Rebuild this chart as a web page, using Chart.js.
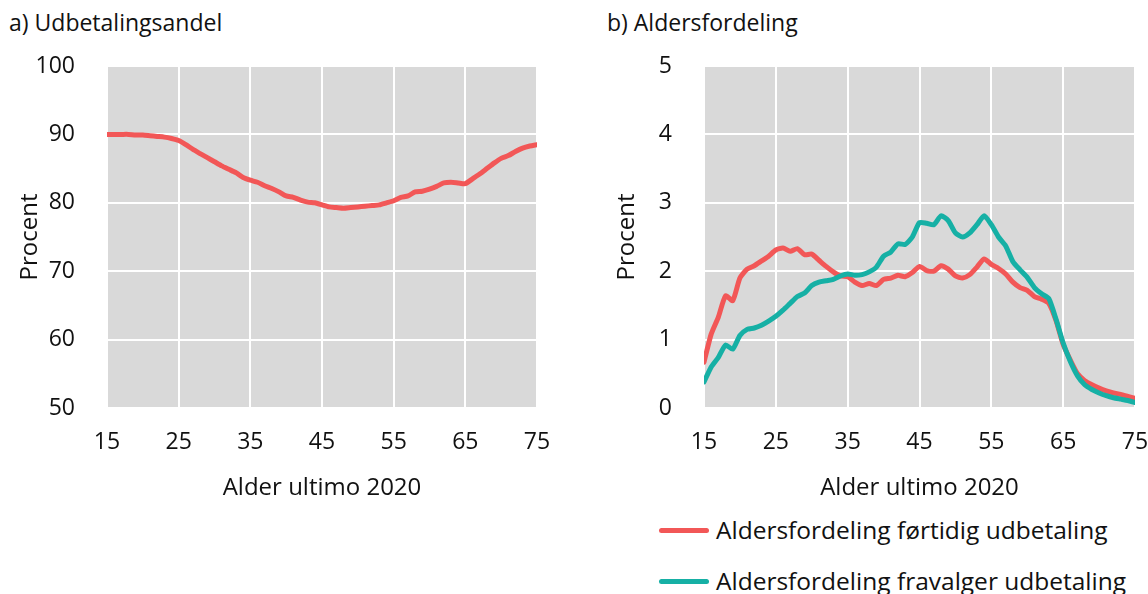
<!DOCTYPE html>
<html lang="da">
<head>
    <meta charset="UTF-8">
    <title>Udbetalingsandel og aldersfordeling</title>
    <script src="https://cdn.jsdelivr.net/npm/chart.js"></script>
    <style>
        body { margin: 0; width: 1148px; height: 594px; background: #fff; font-family: 'Open Sans', sans-serif; color: #111; position: relative; overflow: hidden; }
        .title { position: absolute; top: 8px; font-size: 23px; line-height: 28px; }
        .box { position: absolute; top: 0; height: 510px; }
        .legend { position: absolute; left: 659px; font-size: 24.5px; line-height: 30px; display: flex; align-items: center; white-space: nowrap; }
        .legend span.swatch { display: inline-block; width: 50px; height: 5px; border-radius: 3px; margin-right: 7px; }
    </style>
</head>
<body>
    <div class="title" style="left:9px">a) Udbetalingsandel</div>
    <div class="title" style="left:607px">b) Aldersfordeling</div>
    <div class="box" style="left:0;width:560px"><canvas id="chartA"></canvas></div>
    <div class="box" style="left:597px;width:551px"><canvas id="chartB"></canvas></div>
    <div class="legend" style="top:515px"><span class="swatch" style="background:#f25757"></span>Aldersfordeling førtidig udbetaling</div>
    <div class="legend" style="top:566px"><span class="swatch" style="background:#16b0a5"></span>Aldersfordeling fravalger udbetaling</div>

    <script>
        // alder 15..75
        const ages = [];
        for (let a = 15; a <= 75; a++) ages.push(a);

        const udbetalingsandel = [
            90.0, 90.0, 90.0, 90.0, 89.9, 89.9, 89.8, 89.7, 89.6, 89.4,
            89.1, 88.5, 87.8, 87.2, 86.6, 86.0, 85.4, 84.9, 84.4, 83.7,
            83.3, 83.0, 82.5, 82.1, 81.6, 81.0, 80.8, 80.4, 80.1, 80.0,
            79.7, 79.4, 79.3, 79.2, 79.3, 79.4, 79.5, 79.6, 79.7, 80.0,
            80.3, 80.8, 81.0, 81.6, 81.7, 82.0, 82.4, 82.9, 83.0, 82.9,
            82.8, 83.5, 84.2, 85.0, 85.8, 86.5, 86.9, 87.5, 88.0, 88.3,
            88.5
        ];

        const fortidig = [
            0.67, 1.08, 1.33, 1.64, 1.57, 1.90, 2.03, 2.08, 2.15, 2.22,
            2.31, 2.34, 2.29, 2.33, 2.24, 2.25, 2.16, 2.07, 1.99, 1.93,
            1.92, 1.84, 1.79, 1.82, 1.79, 1.88, 1.90, 1.94, 1.92, 1.98,
            2.07, 2.01, 2.00, 2.08, 2.03, 1.93, 1.90, 1.95, 2.06, 2.18,
            2.10, 2.04, 1.96, 1.84, 1.76, 1.72, 1.63, 1.59, 1.53, 1.28,
            0.93, 0.70, 0.50, 0.40, 0.34, 0.29, 0.25, 0.22, 0.20, 0.17,
            0.14
        ];

        const fravalger = [
            0.38, 0.60, 0.74, 0.92, 0.86, 1.06, 1.15, 1.17, 1.21, 1.27,
            1.34, 1.43, 1.53, 1.63, 1.68, 1.79, 1.84, 1.86, 1.88, 1.93,
            1.96, 1.94, 1.95, 1.99, 2.06, 2.22, 2.28, 2.40, 2.39, 2.50,
            2.71, 2.70, 2.68, 2.81, 2.74, 2.56, 2.50, 2.56, 2.68, 2.81,
            2.68, 2.50, 2.37, 2.14, 2.02, 1.91, 1.76, 1.67, 1.60, 1.30,
            0.95, 0.68, 0.47, 0.34, 0.27, 0.22, 0.18, 0.15, 0.13, 0.11,
            0.08
        ];

        const RED = "#f25757";
        const TEAL = "#16b0a5";
        const FAMILY = "'Open Sans', sans-serif";
        const TICK_FONT = { family: FAMILY, size: 23 };
        const AXIS_FONT = { family: FAMILY, size: 24 };

        Chart.defaults.color = "#111";
        Chart.defaults.font.family = FAMILY;

        // grå baggrund i plotområdet
        const plotBg = {
            id: "plotBg",
            beforeDraw(chart) {
                const { ctx, chartArea: a } = chart;
                ctx.save();
                ctx.fillStyle = "#d9d9d9";
                ctx.fillRect(a.left, a.top, a.right - a.left, a.bottom - a.top);
                ctx.restore();
            }
        };

        const toXY = vals => vals.map((v, i) => ({ x: ages[i], y: v }));

        function makeOptions(yMin, yMax, yStep, padRight) {
            return {
                responsive: false,
                animation: false,
                layout: { padding: { top: 66, right: padRight, bottom: 7, left: 0 } },
                plugins: { legend: { display: false }, tooltip: { enabled: false } },
                elements: { point: { radius: 0 }, line: { borderWidth: 5, tension: 0.2, borderCapStyle: "round", borderJoinStyle: "round" } },
                scales: {
                    x: {
                        type: "linear", min: 15, max: 75,
                        afterFit: s => { s.height = 95; s.paddingLeft = 0; s.paddingRight = 0; },
                        border: { display: false },
                        grid: { color: "#fff", lineWidth: 2, drawTicks: false },
                        ticks: { stepSize: 10, padding: 21, maxRotation: 0, font: TICK_FONT, color: "#111" },
                        title: { display: true, text: "Alder ultimo 2020", font: AXIS_FONT, color: "#111", padding: 0 }
                    },
                    y: {
                        min: yMin, max: yMax,
                        afterFit: s => { s.width = 107; s.paddingTop = 0; s.paddingBottom = 0; },
                        border: { display: false },
                        grid: { color: "#fff", lineWidth: 2, drawTicks: false },
                        ticks: { stepSize: yStep, padding: 32, font: TICK_FONT, color: "#111" },
                        title: { display: true, text: "Procent", font: AXIS_FONT, color: "#111", padding: { top: 16, bottom: 0 } }
                    }
                }
            };
        }

        const cA = document.getElementById("chartA");
        cA.width = 560; cA.height = 510;
        new Chart(cA, {
            type: "line",
            data: {
                datasets: [{ label: "Udbetalingsandel", data: toXY(udbetalingsandel), borderColor: RED }]
            },
            options: makeOptions(50, 100, 10, 23),
            plugins: [plotBg]
        });

        const cB = document.getElementById("chartB");
        cB.width = 551; cB.height = 510;
        new Chart(cB, {
            type: "line",
            data: {
                datasets: [
                    { label: "Aldersfordeling fravalger udbetaling", data: toXY(fravalger), borderColor: TEAL },
                    { label: "Aldersfordeling førtidig udbetaling", data: toXY(fortidig), borderColor: RED }
                ]
            },
            options: makeOptions(0, 5, 1, 13),
            plugins: [plotBg]
        });
    </script>
</body>
</html>
